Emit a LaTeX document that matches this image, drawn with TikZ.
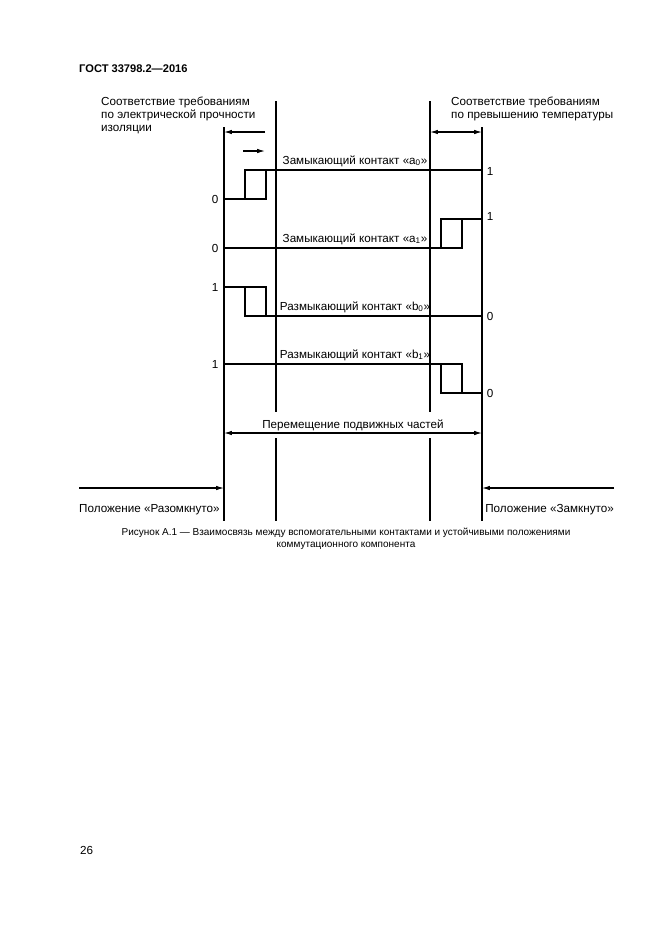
\documentclass[tikz,border=0pt]{standalone}
\usepackage{fontspec}
\setmainfont{Liberation Sans}
\usetikzlibrary{arrows.meta,positioning}
\tikzset{
    sig/.style={line width=1pt},
    guide/.style={line width=1pt},
    dim/.style={line width=1pt,{Latex[length=7pt,width=4pt]}-{Latex[length=7pt,width=4pt]}},
    push/.style={line width=1pt,-{Latex[length=7pt,width=4pt]}},
    lbl/.style={font=\fontsize{10.5}{12}\selectfont,inner sep=1pt},
    note/.style={font=\fontsize{10.5}{11.5}\selectfont,inner sep=0pt,align=left,anchor=north west},
    capt/.style={font=\fontsize{9}{11}\selectfont,inner sep=0pt,align=center}
}
\newcommand{\sub}[1]{\textsubscript{#1}}

\begin{document}
\begin{tikzpicture}[x=0.9006pt,y=-0.9006pt]
    \useasboundingbox[fill=white] (0,0) rectangle (661,935);

    \node[anchor=west,inner sep=0pt,font=\bfseries\fontsize{10}{12}\selectfont] (head) at (79,69) {ГОСТ 33798.2—2016};

    % guide lines
    \coordinate (open top) at (224,127);   \coordinate (open bot) at (224,521);
    \coordinate (ins top) at (276,101);    \coordinate (ins bot) at (276,521);
    \coordinate (tmp top) at (430,101);    \coordinate (tmp bot) at (430,521);
    \coordinate (shut top) at (482,127);   \coordinate (shut bot) at (482,521);
    \draw[guide] (open top) -- (open bot);
    \draw[guide] (shut top) -- (shut bot);
    \draw[guide] (ins top) -- (276,412) (276,438) -- (ins bot);
    \draw[guide] (tmp top) -- (430,412) (430,438) -- (tmp bot);

    \node[note] (ins note) at (101,97) {Соответствие требованиям\\по электрической прочности\\изоляции};
    \node[note] (tmp note) at (451,97) {Соответствие требованиям\\по превышению температуры};

    \draw[push] (265,132) -- (224,132);
    \draw[push] (243,151) -- (265,151);
    \draw[dim] (430,132) -- (482,132);

    % contact a0
    \draw[sig] (224,199) -- (266,199) -- (266,170);
    \draw[sig] (245,199) -- (245,170) -- (482,170);
    \node[lbl,above=2pt] (a0) at (355,170) {Замыкающий контакт «a\sub{0}»};
    \node[lbl] (a0 lo) at (215,199) {0};
    \node[lbl] (a0 hi) at (490,171) {1};

    % contact a1
    \draw[sig] (224,248) -- (462,248) -- (462,219);
    \draw[sig] (441,248) -- (441,219) -- (482,219);
    \node[lbl,above=2pt] (a1) at (355,248) {Замыкающий контакт «a\sub{1}»};
    \node[lbl] (a1 lo) at (215,248) {0};
    \node[lbl] (a1 hi) at (490,216) {1};

    % contact b0
    \draw[sig] (224,287) -- (266,287) -- (266,316);
    \draw[sig] (245,287) -- (245,316) -- (482,316);
    \node[lbl,above=2pt] (b0) at (355,316) {Размыкающий контакт «b\sub{0}»};
    \node[lbl] (b0 hi) at (215,287) {1};
    \node[lbl] (b0 lo) at (490,316) {0};

    % contact b1
    \draw[sig] (224,364) -- (462,364) -- (462,393);
    \draw[sig] (441,364) -- (441,393) -- (482,393);
    \node[lbl,above=2pt] (b1) at (355,364) {Размыкающий контакт «b\sub{1}»};
    \node[lbl] (b1 hi) at (215,364) {1};
    \node[lbl] (b1 lo) at (490,393) {0};

    % travel
    \draw[dim] (224,433) -- (482,433);
    \node[lbl,above=1pt] (travel) at (353,433) {Перемещение подвижных частей};

    \coordinate (open from) at (79,488);
    \coordinate (shut from) at (614,488);
    \draw[push] (open from) -- (224,488);
    \draw[push] (shut from) -- (482,488);
    \node[lbl,anchor=west,inner sep=0pt] (open) at (79,510) {Положение «Разомкнуто»};
    \node[lbl,anchor=east,inner sep=0pt] (shut) at (614,510) {Положение «Замкнуто»};

    \node[capt] (fig) at (346,539) {Рисунок А.1 — Взаимосвязь между вспомогательными контактами и устойчивыми положениями\\коммутационного компонента};

    \node[lbl,anchor=west,inner sep=0pt] (page) at (80,850) {26};
\end{tikzpicture}
\end{document}
